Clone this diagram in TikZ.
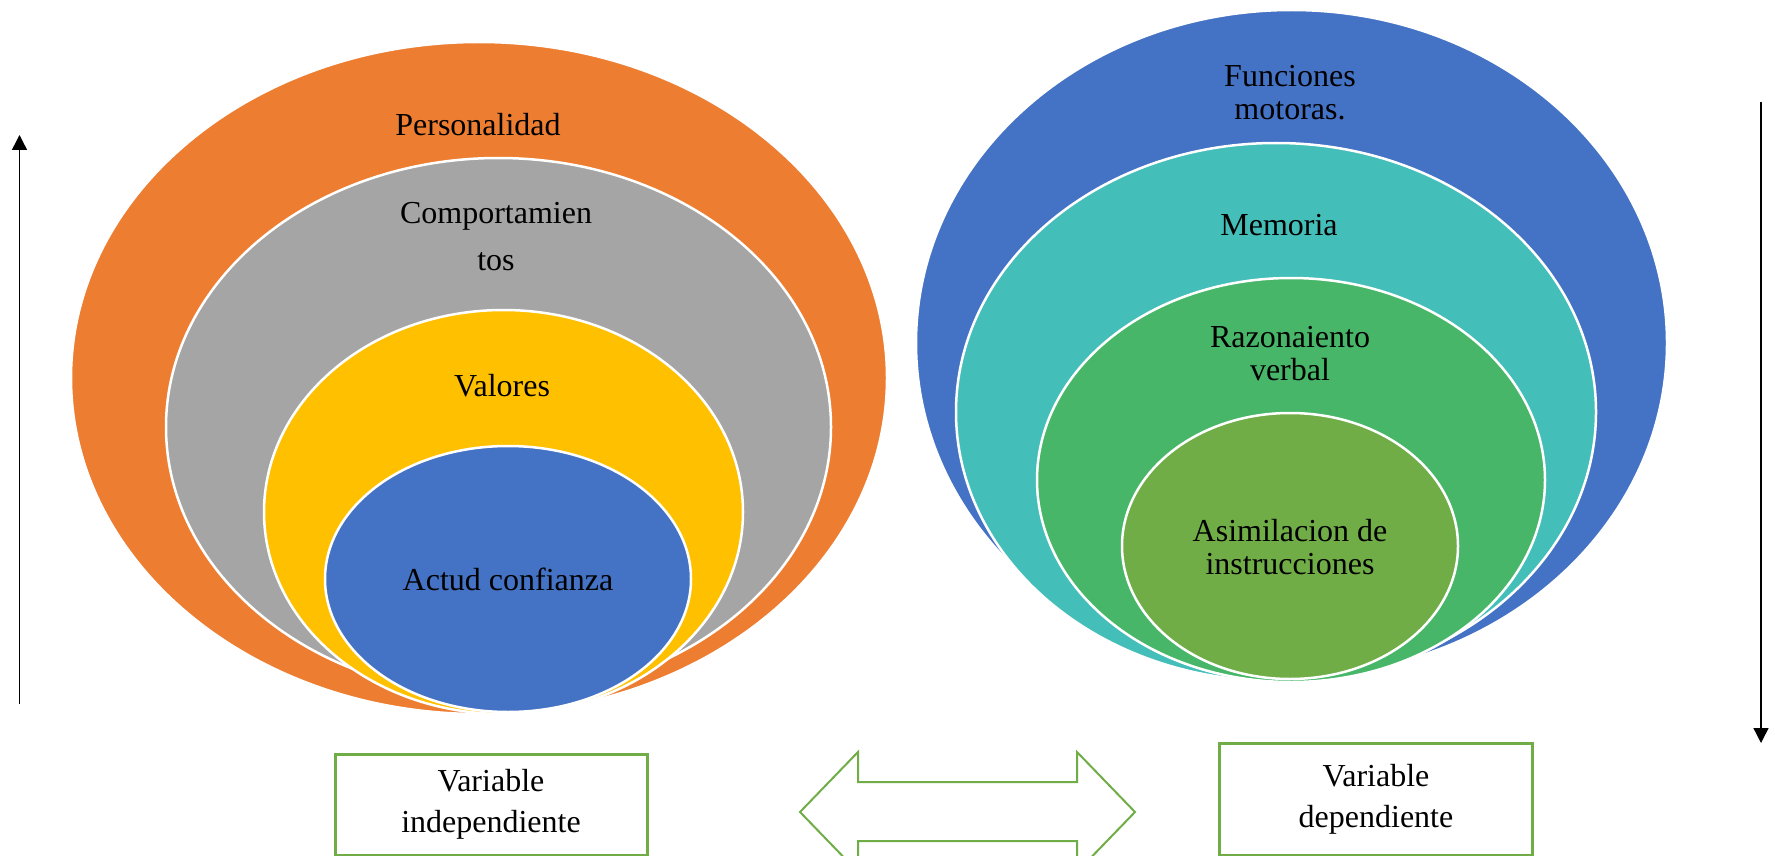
\documentclass[tikz,border=0pt]{standalone}
\usepackage{fontspec}
\setmainfont{Liberation Serif}
\usetikzlibrary{arrows.meta}
\definecolor{cOrange}{HTML}{ED7D31}
\definecolor{cGray}{HTML}{A5A5A5}
\definecolor{cGold}{HTML}{FFC000}
\definecolor{cBlue}{HTML}{4472C4}
\definecolor{cTeal}{HTML}{44BEB9}
\definecolor{cGreen}{HTML}{48B668}
\definecolor{cOlive}{HTML}{70AD47}
\tikzset{
  ring/.style={draw=white, line width=2.5pt},
  lbl/.style={align=center, inner sep=0pt, text=black, font=\fontsize{32}{33}\selectfont},
  lblwide/.style={lbl, font=\fontsize{32}{47}\selectfont},
  vbox/.style={draw=cOlive, line width=3pt, fill=white, align=center, inner sep=0pt,
               font=\fontsize{32}{41}\selectfont},
  vert/.style={line width=1.4pt, -{Triangle[width=15pt,length=15pt]}},
  dblarrow/.style={draw=cOlive, line width=2pt, fill=white, line join=miter}
}
\begin{document}
\begin{tikzpicture}[x=1pt,y=-1pt]
\useasboundingbox (0,0) rectangle (1775,856);
\clip (0,0) rectangle (1775,856);

% left nested ellipses
\filldraw[ring, fill=cOrange] (479,378) ellipse [x radius=408pt, y radius=336pt];
\filldraw[ring, fill=cGray]   (498.5,427) ellipse [x radius=332.5pt, y radius=269pt];
\filldraw[ring, fill=cGold]   (503.5,512) ellipse [x radius=239.5pt, y radius=202pt];
\filldraw[ring, fill=cBlue]   (508,579) ellipse [x radius=183pt, y radius=133pt];

\node[lbl] (pers) at (478,125) {Personalidad};
\node[lblwide] (comp) at (496,237) {Comportamien\\tos};
\node[lbl] (val) at (502,386) {Valores};
\node[lbl] (act) at (508,579) {Actud confianza};

% right nested ellipses
\filldraw[ring, fill=cBlue]  (1291.5,343) ellipse [x radius=375.5pt, y radius=333pt];
\filldraw[ring, fill=cTeal]  (1276,412) ellipse [x radius=320pt, y radius=269pt];
\filldraw[ring, fill=cGreen] (1291,480) ellipse [x radius=254pt, y radius=202pt];
\filldraw[ring, fill=cOlive] (1290,546) ellipse [x radius=168pt, y radius=133pt];

\node[lbl] (func) at (1290,93) {Funciones\\motoras.};
\node[lbl] (mem) at (1279,225) {Memoria};
\node[lbl] (raz) at (1290,354) {Razonaiento\\verbal};
\node[lbl] (asim) at (1290,547) {Asimilacion de\\instrucciones};

% vertical arrows
\coordinate (la0) at (19.5,704);
\coordinate (la1) at (19.5,135);
\draw[vert] (la0) -- (la1);
\coordinate (ra0) at (1761,102);
\coordinate (ra1) at (1761,743);
\draw[vert] (ra0) -- (ra1);

% boxes
\node[vbox, minimum width=312pt, minimum height=101pt] (vi) at (491,804.5) {Variable\\independiente};
\node[vbox, minimum width=313pt, minimum height=112pt] (vd) at (1376,799) {Variable\\dependiente};

% double block arrow
\path[dblarrow] (800,812) -- (858,752) -- (858,782) -- (1077,782) -- (1077,752)
  -- (1135,812) -- (1077,872) -- (1077,841) -- (858,841) -- (858,872) -- cycle;
\end{tikzpicture}
\end{document}
